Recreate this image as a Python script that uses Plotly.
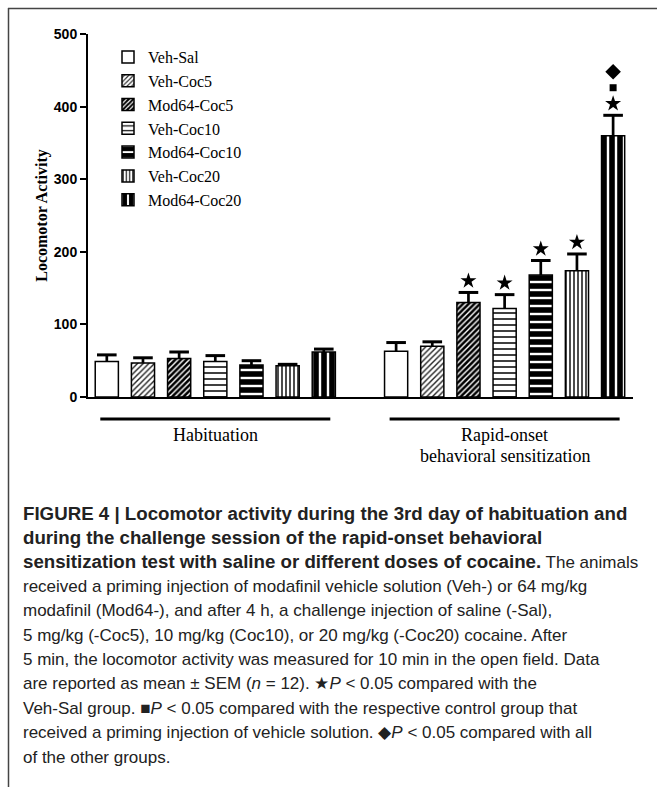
import plotly.graph_objects as go

# ---------------- data ----------------
groups = ["Veh-Sal", "Veh-Coc5", "Mod64-Coc5", "Veh-Coc10", "Mod64-Coc10", "Veh-Coc20", "Mod64-Coc20"]
phases = ["Habituation", "Rapid-onset<br>behavioral sensitization"]
habituation_mean = [49, 47, 53, 49, 44, 43, 62]
habituation_sem = [9, 7, 9, 8, 6, 2, 4]
rapid_mean = [63, 70, 130, 122, 168, 174, 360]
rapid_sem = [12, 6, 14, 19, 20, 23, 28]
# significance flags for the rapid-onset phase
star_flags = [0, 0, 1, 1, 1, 1, 1]      # P<0.05 vs Veh-Sal
square_flags = [0, 0, 0, 0, 0, 0, 1]    # P<0.05 vs respective vehicle control
diamond_flags = [0, 0, 0, 0, 0, 0, 1]   # P<0.05 vs all other groups
y_ticks = [0, 100, 200, 300, 400, 500]

B = '<span style="font-size:18.7px"><b>'
BE = '</b></span>'
caption_lines = [
    B + "FIGURE 4 | Locomotor activity during the 3rd day of habituation and" + BE,
    B + "during the challenge session of the rapid-onset behavioral" + BE,
    B + "sensitization test with saline or different doses of cocaine." + BE + " The animals",
    "received a priming injection of modafinil vehicle solution (Veh-) or 64 mg/kg",
    "modafinil (Mod64-), and after 4 h, a challenge injection of saline (-Sal),",
    "5 mg/kg (-Coc5), 10 mg/kg (Coc10), or 20 mg/kg (-Coc20) cocaine. After",
    "5 min, the locomotor activity was measured for 10 min in the open field. Data",
    "are reported as mean ± SEM (<i>n</i> = 12). ★<i>P</i> &lt; 0.05 compared with the",
    "Veh-Sal group. ■<i>P</i> &lt; 0.05 compared with the respective control group that",
    "received a priming injection of vehicle solution. ◆<i>P</i> &lt; 0.05 compared with all",
    "of the other groups.",
]

# ---------------- styles ----------------
patterns = [
    dict(shape=""),
    dict(shape="/", size=4, solidity=0.35, fgcolor="#222", fgopacity=1),
    dict(shape="/", size=4, solidity=0.65, fgcolor="#000", fgopacity=1),
    dict(shape="-", size=6, solidity=0.25, fgcolor="#000", fgopacity=1),
    dict(shape="-", size=8, solidity=0.7, fgcolor="#000", fgopacity=1),
    dict(shape="|", size=4, solidity=0.35, fgcolor="#000", fgopacity=1),
    dict(shape="|", size=8, solidity=0.7, fgcolor="#000", fgopacity=1),
]

W, H = 657, 787
ML, MR, MT, MB = 88, 24, 34, 390
PW = W - ML - MR
PH = H - MT - MB


def px_x(x):
    return (x - ML) / PW


def px_y(y):
    return (H - MB - y) / PH


n = len(groups)
gap = 1  # empty slot between phases
fig = go.Figure()

stem_x, stem_y, cap_x, cap_y = [], [], [], []
for i, g in enumerate(groups):
    xs = [i, n + gap + i]
    ys = [habituation_mean[i], rapid_mean[i]]
    es = [habituation_sem[i], rapid_sem[i]]
    fig.add_trace(go.Bar(
        x=xs, y=ys, name=g, width=0.64,
        marker=dict(color="white", line=dict(color="black", width=1.5), pattern=patterns[i]),
        legendgroup=g,
    ))
    for xv, yv, ev in zip(xs, ys, es):
        stem_x += [xv, xv, None]
        stem_y += [yv, yv + ev, None]
        cap_x.append(xv)
        cap_y.append(yv + ev)

fig.add_trace(go.Scatter(x=stem_x, y=stem_y, mode="lines", line=dict(color="black", width=2.7),
                         showlegend=False, hoverinfo="skip"))
fig.add_trace(go.Scatter(x=cap_x, y=cap_y, mode="markers",
                         marker=dict(symbol="line-ew", size=14, line=dict(color="black", width=3)),
                         showlegend=False, hoverinfo="skip"))

# significance markers
star_x, star_y, sq_x, sq_y, di_x, di_y = [], [], [], [], [], []
for i in range(n):
    xv = n + gap + i
    top = rapid_mean[i] + rapid_sem[i]
    if star_flags[i]:
        star_x.append(xv); star_y.append(top + 16)
    if square_flags[i]:
        sq_x.append(xv); sq_y.append(top + 38)
    if diamond_flags[i]:
        di_x.append(xv); di_y.append(top + 60)
fig.add_trace(go.Scatter(x=star_x, y=star_y, mode="markers", showlegend=False, hoverinfo="skip",
                         marker=dict(symbol="star", size=12, color="black")))
fig.add_trace(go.Scatter(x=sq_x, y=sq_y, mode="markers", showlegend=False, hoverinfo="skip",
                         marker=dict(symbol="square", size=7, color="black")))
fig.add_trace(go.Scatter(x=di_x, y=di_y, mode="markers", showlegend=False, hoverinfo="skip",
                         marker=dict(symbol="diamond", size=12, color="black")))

# phase lines and labels
shapes = []
annotations = []
serif = "Liberation Serif, Times New Roman, serif"
sans = "Liberation Sans, Arial, sans-serif"
for p, label in enumerate(phases):
    start = p * (n + gap)
    end = start + n - 1
    shapes.append(dict(type="line", xref="x", yref="paper", x0=start - 0.18, x1=end + 0.18,
                       y0=px_y(419), y1=px_y(419), line=dict(color="black", width=3)))
    for k, part in enumerate(label.split("<br>")):
        annotations.append(dict(xref="x", yref="paper", x=(start + end) / 2, y=px_y(435 + 21 * k),
                                text=part, showarrow=False, xanchor="center", yanchor="middle",
                                font=dict(family=serif, size=18, color="black")))

# frame
shapes.append(dict(type="line", xref="paper", yref="paper", x0=px_x(8), x1=px_x(657),
                   y0=px_y(8.5), y1=px_y(8.5), line=dict(color="#444", width=1.5)))
shapes.append(dict(type="line", xref="paper", yref="paper", x0=px_x(8.5), x1=px_x(8.5),
                   y0=px_y(8), y1=px_y(787), line=dict(color="#444", width=1.5)))

# caption
for k, line in enumerate(caption_lines):
    annotations.append(dict(xref="paper", yref="paper", x=px_x(21), y=px_y(513 + 24.4 * k),
                            text=line, showarrow=False, xanchor="left", yanchor="middle", align="left",
                            font=dict(family=sans, size=17.0, color="#222")))

fig.update_layout(
    width=W, height=H,
    margin=dict(l=ML, r=MR, t=MT, b=MB),
    paper_bgcolor="white", plot_bgcolor="white",
    barmode="overlay",
    showlegend=True,
    legend=dict(x=px_x(108), y=px_y(40), xanchor="left", yanchor="top",
                font=dict(family=serif, size=16, color="black"),
                bgcolor="rgba(0,0,0,0)", traceorder="normal", itemwidth=30),
    xaxis=dict(range=[-0.52, 2 * n + gap - 1 + 0.55], showticklabels=False, showgrid=False,
               zeroline=False, showline=True, linecolor="black", linewidth=2, ticks=""),
    yaxis=dict(range=[0, 500], tickvals=y_ticks, showgrid=False, zeroline=False,
               showline=True, linecolor="black", linewidth=2, ticks="outside", ticklen=6,
               tickwidth=2, tickcolor="black",
               tickfont=dict(family=sans, size=14, color="black", weight="bold"),
               title=dict(text="<b>Locomotor Activity</b>", font=dict(family=serif, size=16, color="black"),
                          standoff=2)),
    shapes=shapes,
    annotations=annotations,
)

fig.write_html("out.html", config={"displayModeBar": False},
               post_script="document.body.style.margin='0px';")
